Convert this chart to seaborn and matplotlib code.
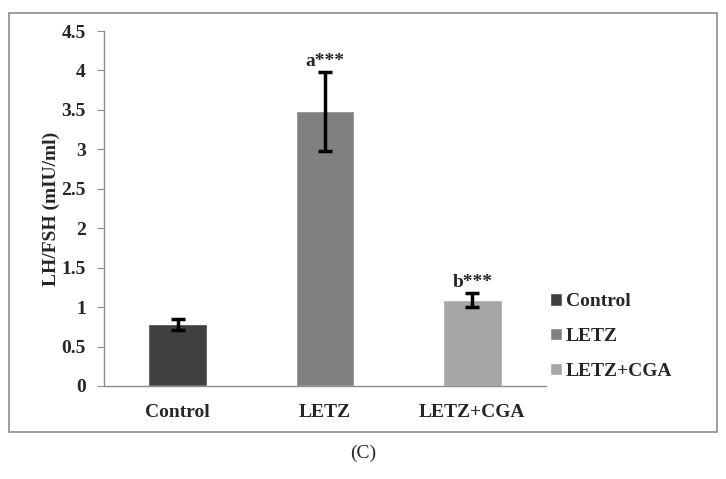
import numpy as np
import pandas as pd
import seaborn as sns
import matplotlib.pyplot as plt
from matplotlib.patches import Rectangle

groups = ["Control", "LETZ", "LETZ+CGA"]
means = [0.78, 3.48, 1.09]
errs = [0.07, 0.50, 0.09]
marks = ["", "a***", "b***"]
colors = ["#404040", "#808080", "#a6a6a6"]

sns.set_style("white")
plt.rcParams['font.family'] = ['Liberation Serif', 'DejaVu Serif']
plt.rcParams['font.weight'] = 'bold'

df = pd.DataFrame({"group": groups, "value": means})

fig = plt.figure(figsize=(7.26, 4.79), dpi=100)
# outer frame
fig.patches.append(Rectangle((9 / 726, 1 - 432 / 479), 708 / 726, 419 / 479,
                             transform=fig.transFigure, fill=False,
                             edgecolor="#8c8c8c", linewidth=1.2))
ax = fig.add_axes([104 / 726, 1 - 386 / 479, 442 / 726, 355 / 479])

sns.barplot(data=df, x="group", y="value", hue="group", palette=colors,
            width=0.4, errorbar=None, legend=True, ax=ax, saturation=1)
ax.errorbar(np.arange(3), means, yerr=errs, fmt="none", ecolor="black",
            elinewidth=2.5, capsize=5, capthick=2.5)
for i, (m, e, t) in enumerate(zip(means, errs, marks)):
    if t:
        ax.text(i, m + e + 0.02, t, ha="center", va="bottom",
                fontsize=14, fontweight="bold")

ax.set_ylim(0, 4.5)
ax.set_xlim(-0.5, 2.5)
ax.set_yticks(np.arange(0, 4.51, 0.5))
ax.set_yticklabels(["0", "0.5", "1", "1.5", "2", "2.5", "3", "3.5", "4", "4.5"],
                   fontsize=14, fontweight="bold")
ax.set_xticks(range(3))
ax.set_xticklabels(groups, fontsize=14, fontweight="bold")
ax.set_xticks([-0.5, 0.5, 1.5, 2.5], minor=True)
ax.tick_params(axis="x", which="major", length=0, pad=13)
ax.tick_params(axis="x", which="minor", length=5, color="#8c8c8c", direction="out")
ax.tick_params(axis="y", length=5, color="#8c8c8c", direction="out", left=True, pad=8)
ax.set_xlabel("")
ax.set_ylabel("LH/FSH (mIU/ml)", fontsize=14, fontweight="bold", labelpad=1)
for s in ["top", "right"]:
    ax.spines[s].set_visible(False)
for s in ["left", "bottom"]:
    ax.spines[s].set_color("#8c8c8c")
    ax.spines[s].set_linewidth(1)

leg = ax.legend(loc="upper left", bbox_to_anchor=(420 / 442 + 0.02, 0.31),
                frameon=False, handlelength=0.6, handleheight=0.6,
                handletextpad=0.2, labelspacing=0.9,
                prop={"size": 14, "weight": "bold"})

fig.text(363 / 726, 1 - 453 / 479, "(C)", ha="center", va="center",
         fontsize=14, fontweight="normal")

fig.savefig("out.png", dpi=100)
